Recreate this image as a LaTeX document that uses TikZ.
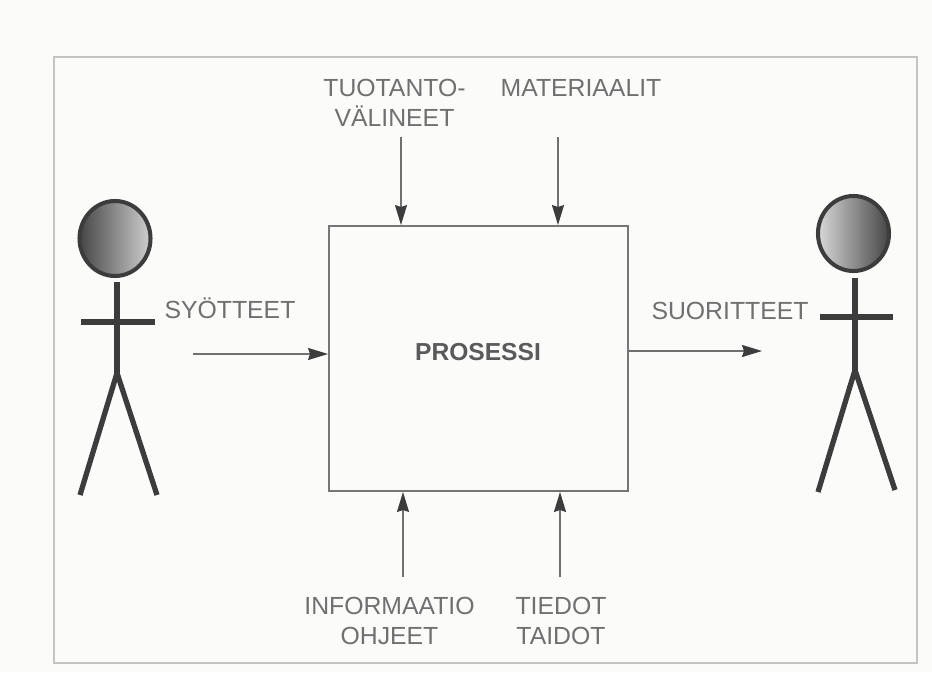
\documentclass[tikz,border=0pt]{standalone}
\usepackage{fontspec}
\setmainfont{Liberation Sans}
\usepackage{tikz}
\usetikzlibrary{arrows.meta, positioning, shapes.geometric, calc}
\definecolor{colpaper}{HTML}{FBFBF9}
\definecolor{colframe}{HTML}{C4C4C2}
\definecolor{colbox}{HTML}{767676}
\definecolor{colarrow}{HTML}{707070}
\definecolor{coltext}{HTML}{707070}
\definecolor{colbody}{HTML}{3C3C3C}
\tikzset{
  lbl/.style={font=\fontsize{14.1}{17}\selectfont, text=coltext, align=center, inner sep=0pt},
  flow/.style={-{Stealth[length=0.40cm, width=0.24cm, inset=0.04cm, colbody]}, line width=1pt, colarrow},
  limb/.style={line width=3pt, colbody},
  headshape/.style={ellipse, draw=colbody, line width=2.3pt, minimum width=1.42cm, minimum height=1.50cm, inner sep=0pt}
}

\begin{document}
\begin{tikzpicture}[scale=1.00]
        \useasboundingbox (0,0) rectangle (18.64,13.44);
        \fill[colpaper] (0,0) rectangle (18.64,13.44);
        % ── FRAME ──────────────────────────────────
        \draw[colframe, line width=0.8pt] (1.08,0.18) rectangle (18.34,12.30);

        % ── PROCESS BOX ────────────────────────────
        \node[draw=colbox, line width=1.1pt, minimum width=5.98cm, minimum height=5.30cm]
          (prosessi) at (9.57,6.27) {};
        \node[font=\fontsize{14}{16.4}\selectfont\bfseries, text=coltext!80!black, inner sep=0pt]
          (prosessilbl) at (9.56,6.40) {PROSESSI};

        % ── LABELS ─────────────────────────────────
        \node[lbl] (tuotanto) at (7.89,11.39) {TUOTANTO-\\VÄLINEET};
        \node[lbl] (materiaalit) at (11.62,11.68) {MATERIAALIT};
        \node[lbl] (informaatio) at (7.79,1.02) {INFORMAATIO\\OHJEET};
        \node[lbl] (tiedot) at (11.22,1.02) {TIEDOT\\TAIDOT};
        \node[lbl] (syotteet) at (4.60,7.28) {SYÖTTEET};
        \node[lbl] (suoritteet) at (14.60,7.22) {SUORITTEET};

        % ── ARROWS ─────────────────────────────────
        \coordinate (tuotantoin) at (8.02,10.70);
        \coordinate (materiaalitin) at (11.16,10.70);
        \coordinate (informaatioin) at (8.06,1.90);
        \coordinate (tiedotin) at (11.20,1.90);
        \coordinate (syotteetin) at (3.86,6.36);
        \coordinate (suoritteetout) at (15.24,6.42);
        \draw[flow] (tuotantoin) -- (tuotantoin |- prosessi.north);
        \draw[flow] (materiaalitin) -- (materiaalitin |- prosessi.north);
        \draw[flow] (informaatioin) -- (informaatioin |- prosessi.south);
        \draw[flow] (tiedotin) -- (tiedotin |- prosessi.south);
        \draw[flow] (syotteetin) -- (syotteetin -| prosessi.west);
        \draw[flow] (suoritteetout -| prosessi.east) -- (suoritteetout);

        % ── LEFT PERSON ────────────────────────────
        \node[headshape, left color=colbody!95, right color=colbody!25] (headl) at (2.30,8.67) {};
        \coordinate (hipl) at (2.34,5.98);
        \draw[limb] (2.34,7.80) -- (hipl);
        \draw[limb] (1.62,7.00) -- (3.10,7.00);
        \draw[limb] (1.60,3.54) -- (hipl) -- (3.14,3.54);

        % ── RIGHT PERSON ───────────────────────────
        \node[headshape, left color=colbody!20, right color=colbody!95] (headr) at (17.07,8.77) {};
        \coordinate (hipr) at (17.10,6.04);
        \draw[limb] (17.10,7.88) -- (hipr);
        \draw[limb] (16.40,7.10) -- (17.86,7.10);
        \draw[limb] (16.36,3.60) -- (hipr) -- (17.90,3.64);
      \end{tikzpicture}
\end{document}
